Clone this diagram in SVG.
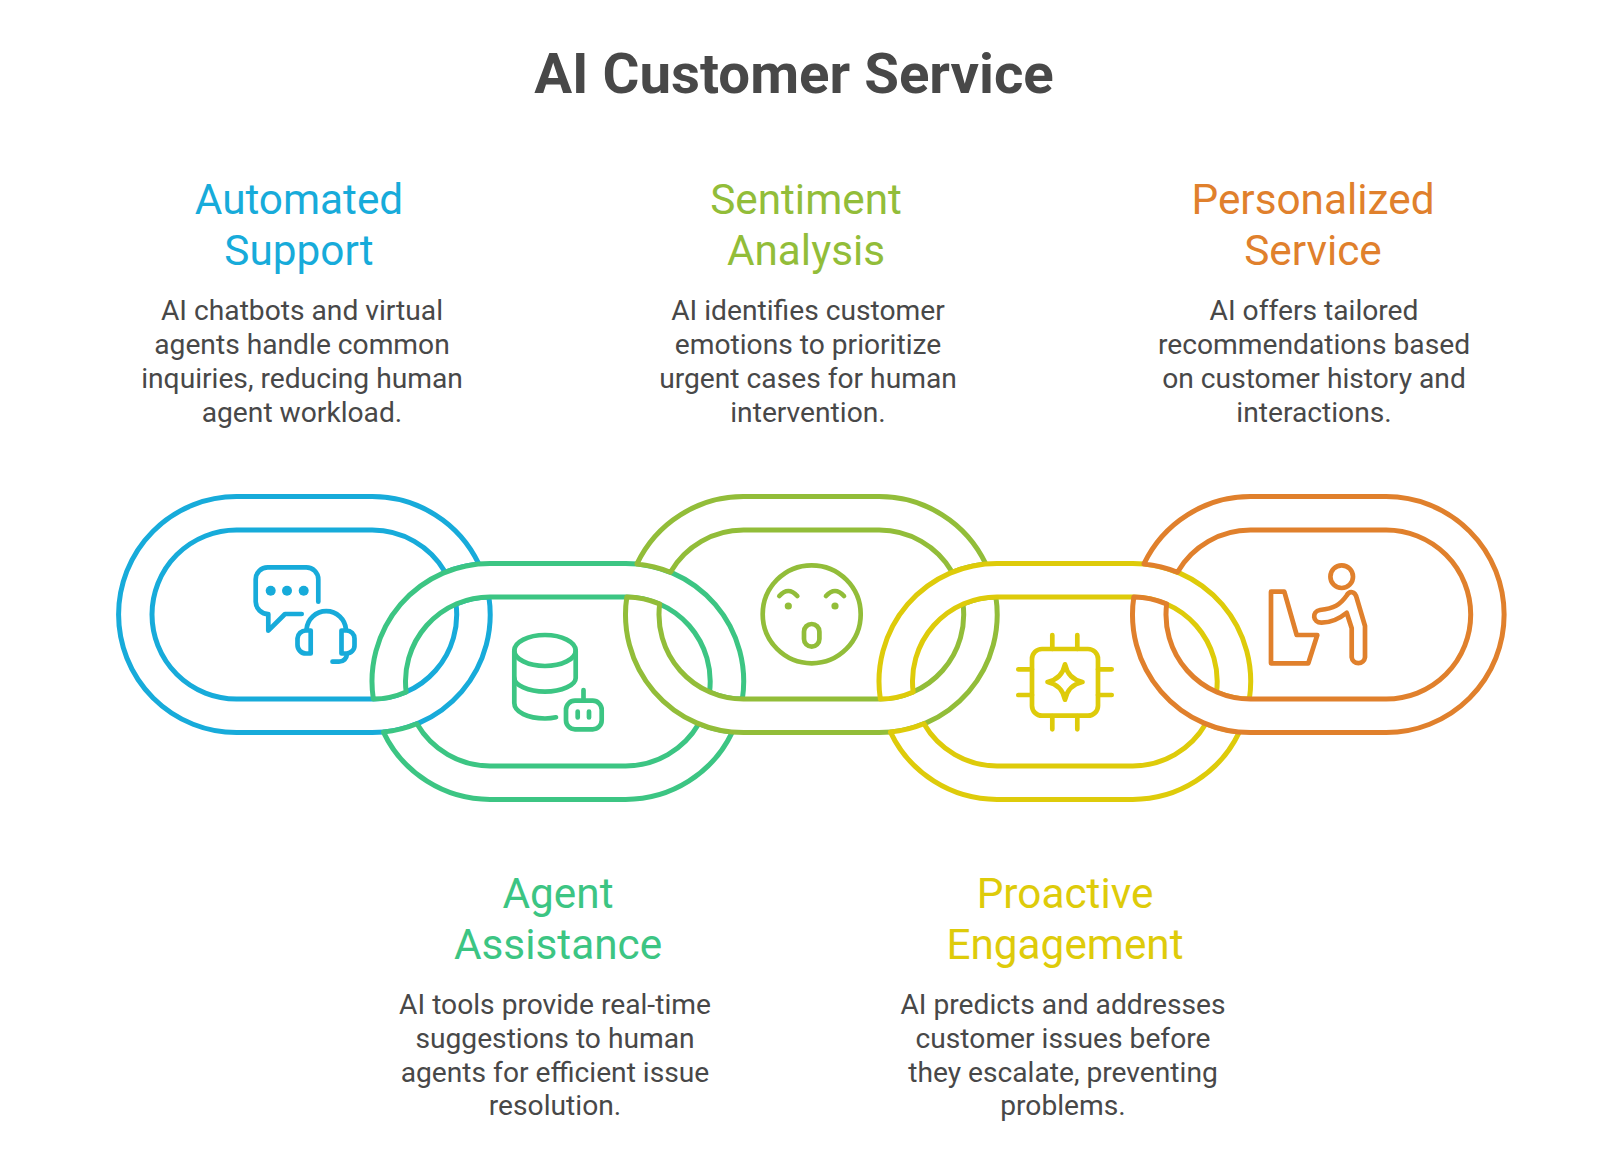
<svg xmlns="http://www.w3.org/2000/svg" width="1600" height="1153" viewBox="0 0 1600 1153">
<style>
text{font-family:Roboto,"Liberation Sans",sans-serif;text-anchor:middle}
.t{font-size:56.400px;font-weight:700;fill:#484848}
.h{font-size:42.300px}
.b{font-size:28.200px;fill:#484848}
.link{stroke-width:5;stroke-linejoin:round;fill:#fff}
.i{fill:none;stroke-width:4.700;stroke-linecap:round;stroke-linejoin:round}
.cb{stroke:#17ABDA}.cg{stroke:#3CC583}.cs{stroke:#92BD39}.cy{stroke:#DECB0A}.co{stroke:#E0802C}
.fb{fill:#17ABDA}.fg{fill:#3CC583}.fs{fill:#92BD39}.fy{fill:#DECB0A}.fo{fill:#E0802C}
</style>
<rect width="1600" height="1153" fill="#fff"/>
<text class="t" x="794" y="92.500">AI Customer Service</text>
<g id="connectors">
<path class="link cb" d="M478.77 563.93A118 118 0 0 0 372.2 496.6L236.5 496.6A118 118 0 0 0 236.5 732.6L372.2 732.6A118 118 0 0 0 488.87 596.91A84.5 84.5 0 0 0 456.04 604.03A84.5 84.5 0 0 1 372.2 699.1L236.5 699.1A84.5 84.5 0 0 1 236.5 530.1L372.2 530.1A84.5 84.5 0 0 1 445.29 572.19A118 118 0 0 1 478.77 563.93Z"/>
<path class="link cg" d="M373.33 699.09A118 118 0 0 1 490 563.4L625.7 563.4A118 118 0 0 1 742.37 699.09A84.5 84.5 0 0 1 709.54 691.97A84.5 84.5 0 0 0 625.7 596.9L490 596.9A84.5 84.5 0 0 0 406.16 691.97A84.5 84.5 0 0 1 373.33 699.09Z"/>
<path class="link cg" d="M383.43 732.07A118 118 0 0 0 490 799.4L625.7 799.4A118 118 0 0 0 732.27 732.07A118 118 0 0 1 698.79 723.81A84.5 84.5 0 0 1 625.7 765.9L490 765.9A84.5 84.5 0 0 1 416.91 723.81A118 118 0 0 1 383.43 732.07Z"/>
<path class="link cs" d="M636.93 563.93A118 118 0 0 1 743.5 496.6L879.2 496.6A118 118 0 0 1 985.77 563.93A118 118 0 0 0 952.29 572.19A84.5 84.5 0 0 0 879.2 530.1L743.5 530.1A84.5 84.5 0 0 0 670.41 572.19A118 118 0 0 0 636.93 563.93Z"/>
<path class="link cs" d="M626.83 596.93A118 118 0 0 0 743.5 732.6L879.2 732.6A118 118 0 0 0 995.87 596.91A84.5 84.5 0 0 0 963.04 604.03A84.5 84.5 0 0 1 879.2 699.1L743.5 699.1A84.5 84.5 0 0 1 659.66 604.03A84.5 84.5 0 0 0 626.83 596.93Z"/>
<path class="link cy" d="M880.33 699.09A118 118 0 0 1 997 563.4L1132.7 563.4A118 118 0 0 1 1249.37 699.09A84.5 84.5 0 0 1 1216.54 691.97A84.5 84.5 0 0 0 1132.7 596.9L997 596.9A84.5 84.5 0 0 0 913.16 691.97A84.5 84.5 0 0 1 880.33 699.09Z"/>
<path class="link cy" d="M890.43 732.07A118 118 0 0 0 997 799.4L1132.7 799.4A118 118 0 0 0 1239.27 732.07A118 118 0 0 1 1205.79 723.81A84.5 84.5 0 0 1 1132.7 765.9L997 765.9A84.5 84.5 0 0 1 923.91 723.81A118 118 0 0 1 890.43 732.07Z"/>
<path class="link co" d="M1143.93 563.93A118 118 0 0 1 1250.5 496.6L1386.2 496.6A118 118 0 0 1 1386.2 732.6L1250.5 732.6A118 118 0 0 1 1133.83 596.93A84.5 84.5 0 0 1 1166.66 604.03A84.5 84.5 0 0 0 1250.5 699.1L1386.2 699.1A84.5 84.5 0 0 0 1386.2 530.1L1250.5 530.1A84.5 84.5 0 0 0 1177.41 572.19A118 118 0 0 0 1143.93 563.93Z"/>
</g>
<g id="node-automated-support">
<text class="h fb" x="299" y="214">Automated</text>
<text class="h fb" x="299" y="264.500">Support</text>
<text class="b" x="302" y="320">AI chatbots and virtual</text>
<text class="b" x="302" y="354">agents handle common</text>
<text class="b" x="302" y="387.500">inquiries, reducing human</text>
<text class="b" x="302" y="421.500">agent workload.</text>
<g class="i cb">
<path d="M318.3 601.7V579.3A12 12 0 0 0 306.3 567.3H267.7A12 12 0 0 0 255.7 579.3V601.7A12.5 12.5 0 0 0 268.3 614V630.7L285 614H301.7"/>
<path d="M306.5 630V629.5A19.800 19.800 0 0 1 346 629.500V630"/>
<path d="M310.700 630.500V653.500H306A8.500 8.500 0 0 1 297.500 645V638.500A8.500 8.500 0 0 1 306 630.500Z"/>
<path d="M341.500 630.500V653.500H346.500A8 8 0 0 0 354.500 645V638.500A8 8 0 0 0 346.500 630.500Z"/>
<path d="M347 654A8 8 0 0 1 339 661.700H332.500"/>
</g>
<circle class="fb" cx="270.700" cy="590.700" r="5"/><circle class="fb" cx="287" cy="590.700" r="5"/><circle class="fb" cx="303.700" cy="590.700" r="5"/>
</g>
<g id="node-agent-assistance">
<text class="h fg" x="558" y="908">Agent</text>
<text class="h fg" x="558" y="958.500">Assistance</text>
<text class="b" x="555" y="1014">AI tools provide real-time</text>
<text class="b" x="555" y="1048">suggestions to human</text>
<text class="b" x="555" y="1081.500">agents for efficient issue</text>
<text class="b" x="555" y="1115">resolution.</text>
<g class="i cg">
<ellipse cx="545" cy="650.500" rx="30.700" ry="15.500"/>
<path d="M514.300 650.500V703C514.300 712 528 718.500 545 718.500Q551 718.500 556 717.300"/>
<path d="M575.700 650.500V678C575.700 685 562 691.700 545 691.700S514.300 685 514.300 678"/>
<rect x="566" y="700.700" width="35.700" height="28.600" rx="9"/>
<path d="M583.500 700V690M577.700 711.500V717.500M589 711.500V717.500"/>
</g>
</g>
<g id="node-sentiment-analysis">
<text class="h fs" x="806" y="214">Sentiment</text>
<text class="h fs" x="806" y="264.500">Analysis</text>
<text class="b" x="808" y="320">AI identifies customer</text>
<text class="b" x="808" y="354">emotions to prioritize</text>
<text class="b" x="808" y="387.500">urgent cases for human</text>
<text class="b" x="808" y="421.500">intervention.</text>
<g class="i cs">
<circle cx="811.700" cy="614.300" r="49"/>
<path d="M779.300 596Q788.300 586 797.300 596M826 596Q835 586 844 596"/>
<rect x="804" y="624" width="15.400" height="22.700" rx="7.700"/>
</g>
<circle class="fs" cx="788.300" cy="606" r="3.600"/><circle class="fs" cx="835" cy="606" r="3.600"/>
</g>
<g id="node-proactive-engagement">
<text class="h fy" x="1065" y="908">Proactive</text>
<text class="h fy" x="1065" y="958.500">Engagement</text>
<text class="b" x="1063" y="1014">AI predicts and addresses</text>
<text class="b" x="1063" y="1048">customer issues before</text>
<text class="b" x="1063" y="1081.500">they escalate, preventing</text>
<text class="b" x="1063" y="1115">problems.</text>
<g class="i cy">
<rect x="1032" y="649" width="66" height="66.700" rx="10"/>
<path d="M1052.300 649V635M1077.300 649V635M1052.300 716V729.300M1077.300 716V729.300M1032 669.300H1018.300M1032 695H1018.300M1098 669.300H1111.700M1098 695H1111.700"/>
<path d="M1065 664.300Q1068 679 1082.500 682Q1068 685 1065 699.700Q1062 685 1047.500 682Q1062 679 1065 664.300Z"/>
</g>
</g>
<g id="node-personalized-service">
<text class="h fo" x="1313" y="214">Personalized</text>
<text class="h fo" x="1313" y="264.500">Service</text>
<text class="b" x="1314" y="320">AI offers tailored</text>
<text class="b" x="1314" y="354">recommendations based</text>
<text class="b" x="1314" y="387.500">on customer history and</text>
<text class="b" x="1314" y="421.500">interactions.</text>
<g class="i co">
<path d="M1271 591.700H1284.300L1296.700 635H1317.300L1308.300 663.300H1271Z"/>
<circle cx="1341.700" cy="576.700" r="11.300"/>
<path d="M1320 610C1334 608.500 1340 605 1346.700 595.500C1349.500 590.500 1355 591 1356.700 598L1365 626V657.300A6.700 6.700 0 0 1 1351.700 657.300V628.300L1346.700 612.700C1339 619 1331 622.500 1321.700 622.700C1312.500 623 1311.500 611.500 1320 610Z"/>
</g>
</g>
</svg>
